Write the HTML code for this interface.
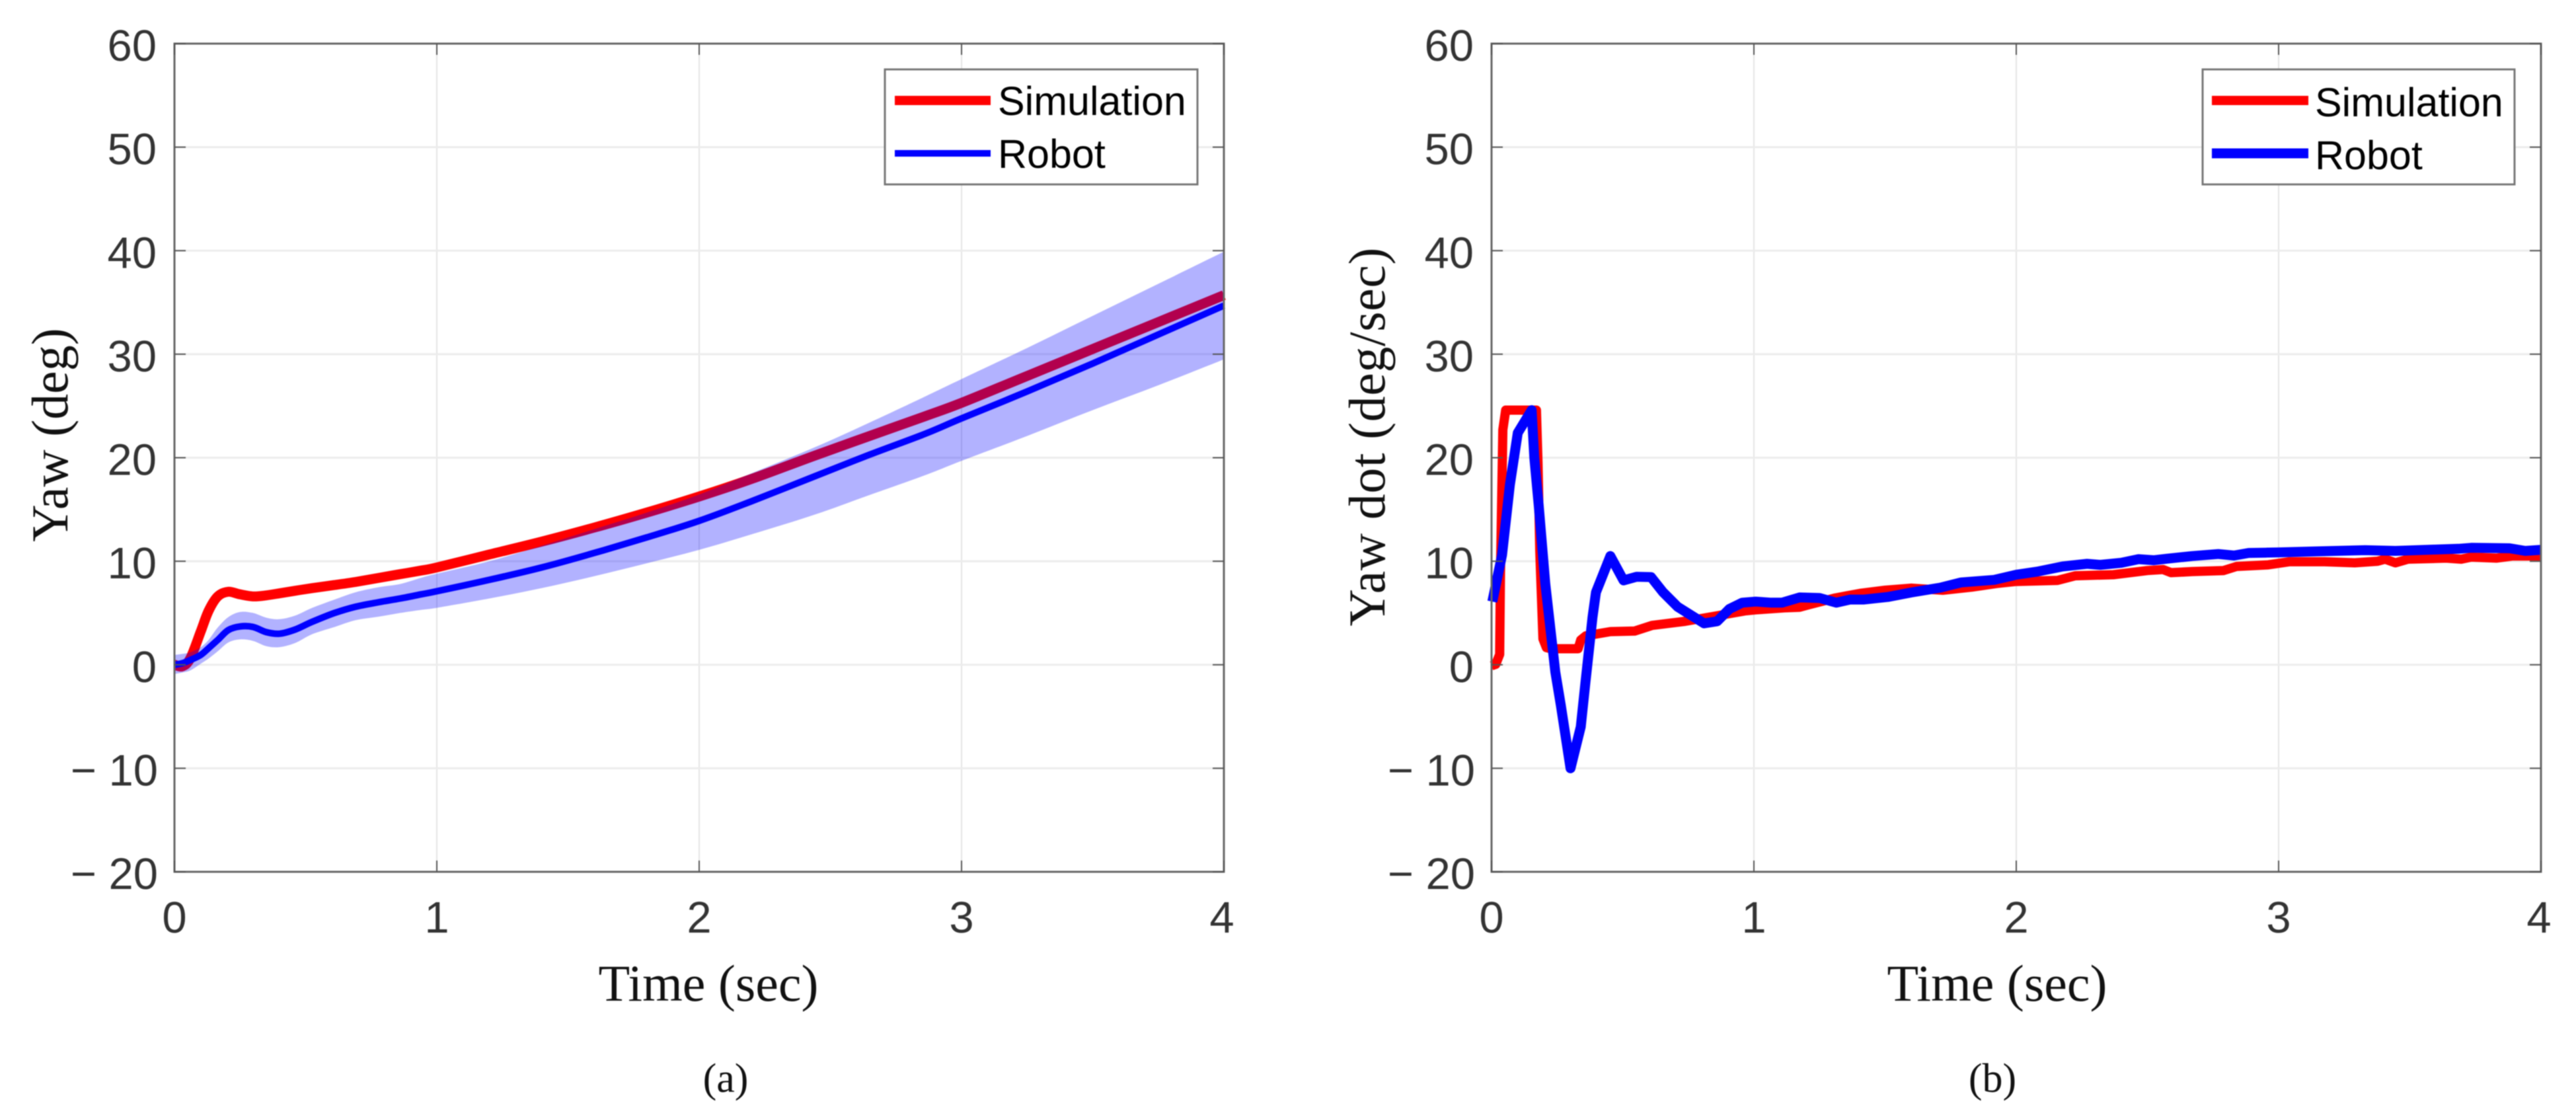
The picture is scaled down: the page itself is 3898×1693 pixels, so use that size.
<!DOCTYPE html>
<html lang="en">
<head>
<meta charset="utf-8">
<title>Yaw and yaw rate: simulation vs robot</title>
<style>
html,body{margin:0;padding:0;background:#fff;}
svg{display:block;filter:blur(0.7px);}
.tick{font-family:"Liberation Sans",sans-serif;font-size:67px;fill:#333;}
.serif{font-family:"Liberation Serif",serif;fill:#111;}
.legend-text{font-family:"Liberation Sans",sans-serif;font-size:61px;fill:#000;}
</style>
</head>
<body>
<svg id="figure" xmlns="http://www.w3.org/2000/svg" width="3898" height="1693" viewBox="0 0 3898 1693">
  <rect width="3898" height="1693" fill="#fff"/>

  <g id="panel-a"></g>
  <g id="panel-b"></g>

  <text class="serif" font-size="78" text-anchor="middle" transform="translate(102 658) rotate(-90)">Yaw (deg)</text>
  <text class="serif" font-size="78" text-anchor="middle" textLength="573" lengthAdjust="spacing" transform="translate(2095 661) rotate(-90)">Yaw dot (deg/sec)</text>
  <text class="serif" font-size="78" text-anchor="middle" x="1072" y="1514">Time (sec)</text>
  <text class="serif" font-size="78" text-anchor="middle" x="3022" y="1514">Time (sec)</text>
  <text class="serif" font-size="62" text-anchor="middle" x="1098" y="1652">(a)</text>
  <text class="serif" font-size="62" text-anchor="middle" x="3015" y="1652">(b)</text>

  <g>
    <rect x="1339" y="105" width="473" height="174" fill="#fff" stroke="#777" stroke-width="3"/>
    <line x1="1354" x2="1499" y1="152" y2="152" stroke="#f00" stroke-width="14"/>
    <text class="legend-text" x="1510" y="174">Simulation</text>
    <line x1="1354" x2="1499" y1="232" y2="232" stroke="#00f" stroke-width="10"/>
    <text class="legend-text" x="1510" y="254">Robot</text>
  </g>
  <g>
    <rect x="3333" y="105" width="472" height="174" fill="#fff" stroke="#777" stroke-width="3"/>
    <line x1="3347" x2="3493" y1="152" y2="152" stroke="#f00" stroke-width="14"/>
    <text class="legend-text" x="3503" y="176">Simulation</text>
    <line x1="3347" x2="3493" y1="232" y2="232" stroke="#00f" stroke-width="15"/>
    <text class="legend-text" x="3503" y="256">Robot</text>
  </g>
</svg>

<script>
/* ---------- axis tick data ---------- */
const xTicks = [0, 1, 2, 3, 4];
const yTicks = [60, 50, 40, 30, 20, 10, 0, -10, -20];

/* ---------- panel (a): yaw ---------- */
const yawTime = [0,.03,.06,.10,.13,.165,.205,.25,.30,.35,.40,.46,.525,.61,.69,.78,.86,.94,1,1.2,1.4,1.6,1.8,2,2.2,2.44,2.65,2.86,3,3.25,3.5,3.75,4];
const yawSimulation = [0,-.15,.6,3.2,5.2,6.6,7.05,6.8,6.6,6.7,6.9,7.15,7.4,7.7,8.0,8.4,8.75,9.1,9.4,10.65,11.9,13.25,14.7,16.25,17.95,20.2,22.1,24,25.3,27.9,30.5,33.1,35.7];
const yawRobot = [0,.15,.45,.95,1.6,2.4,3.35,3.7,3.65,3.15,3.0,3.4,4.15,5.0,5.6,6.05,6.4,6.8,7.1,8.2,9.4,10.8,12.3,13.9,15.8,18.2,20.3,22.3,23.8,26.4,29.1,31.9,34.7];
const yawUpper = [.95,1.05,1.2,1.7,2.4,3.6,4.6,5.1,5.0,4.55,4.4,4.75,5.5,6.3,7,7.5,7.8,8.4,8.8,10,11.5,13.1,14.7,16.45,18.5,21,23.4,25.9,27.6,30.6,33.7,36.8,39.9];
const yawLower = [-.9,-.75,-.55,.1,.6,1.3,2.15,2.45,2.3,1.8,1.7,2.1,2.95,3.65,4.3,4.65,5,5.3,5.5,6.4,7.4,8.55,9.8,11.1,12.6,14.5,16.4,18.3,19.7,22.1,24.6,27,29.5];

/* ---------- panel (b): yaw dot ---------- */
const dotSimTime = [0,.016,.031,.034,.043,.054,.171,.177,.184,.196,.209,.226,.33,.34,.36,.453,.545,.612,.738,.864,.965,1.007,1.116,1.174,1.21,1.31,1.405,1.5,1.6,1.72,1.83,1.925,2,2.157,2.225,2.37,2.5,2.56,2.59,2.67,2.79,2.84,2.96,3.04,3.175,3.29,3.377,3.406,3.445,3.493,3.638,3.696,3.734,3.83,3.89,4];
const dotSimulation = [-.1,.05,1,8.9,22.7,24.6,24.6,19.5,11,2.5,1.66,1.55,1.55,2.4,2.8,3.2,3.25,3.8,4.2,4.75,5.2,5.3,5.5,5.55,5.8,6.45,6.9,7.2,7.4,7.2,7.5,7.85,8.05,8.15,8.6,8.7,9.1,9.2,8.9,9,9.1,9.5,9.65,9.95,9.95,9.85,10,10.2,9.85,10.2,10.3,10.2,10.4,10.3,10.5,10.5];
const dotRobotTime = [.003,.04,.07,.1,.153,.163,.18,.205,.243,.264,.301,.34,.358,.385,.398,.453,.503,.553,.608,.654,.709,.81,.86,.907,.956,1.007,1.066,1.107,1.174,1.25,1.314,1.367,1.42,1.51,1.6,1.71,1.79,1.916,2,2.08,2.177,2.27,2.32,2.4,2.466,2.525,2.577,2.67,2.77,2.83,2.886,3,3.155,3.33,3.445,3.686,3.734,3.88,3.94,4];
const dotRobot = [6.1,10.6,17.4,22.4,24.6,20,15.3,7.8,-.7,-3.9,-10,-6,-1.7,4.6,7,10.5,8.15,8.5,8.47,7,5.6,4,4.2,5.4,6,6.1,6,6,6.5,6.45,6,6.3,6.3,6.55,6.98,7.45,7.95,8.2,8.7,9,9.5,9.75,9.65,9.85,10.2,10.1,10.25,10.5,10.7,10.55,10.8,10.85,10.96,11.07,11,11.2,11.3,11.25,11,11.1];

/* ---------- axis functions ---------- */
const SVG_NS = 'http://www.w3.org/2000/svg';
const TOP = 66, BOTTOM = 1319, YMAX = 60, YMIN = -20, XMAX = 4;
function yScale(v){ return TOP + (YMAX - v) * (BOTTOM - TOP) / (YMAX - YMIN); }
function xScaleFor(left, right){ return function(t){ return left + t * (right - left) / XMAX; }; }
function pathFrom(xs, ys, xf){
  return xs.map(function(t, i){ return (i ? 'L' : 'M') + xf(t).toFixed(1) + ' ' + yScale(ys[i]).toFixed(1); }).join(' ');
}
/* Catmull-Rom smoothing through the data points (used for the smooth yaw curves) */
function smoothSegments(xs, ys, xf){
  const px = xs.map(xf), py = ys.map(yScale);
  let d = '';
  for (let i = 0; i < px.length - 1; i++){
    const a = Math.max(i - 1, 0), b = Math.min(i + 2, px.length - 1);
    const c1x = px[i] + (px[i + 1] - px[a]) / 6, c1y = py[i] + (py[i + 1] - py[a]) / 6;
    const c2x = px[i + 1] - (px[b] - px[i]) / 6, c2y = py[i + 1] - (py[b] - py[i]) / 6;
    d += ' C' + c1x.toFixed(1) + ' ' + c1y.toFixed(1) + ' ' + c2x.toFixed(1) + ' ' + c2y.toFixed(1) + ' ' + px[i + 1].toFixed(1) + ' ' + py[i + 1].toFixed(1);
  }
  return d;
}
function smoothPath(xs, ys, xf){
  return 'M' + xf(xs[0]).toFixed(1) + ' ' + yScale(ys[0]).toFixed(1) + smoothSegments(xs, ys, xf);
}
function make(parent, tag, attrs){
  const node = document.createElementNS(SVG_NS, tag);
  Object.keys(attrs).forEach(function(k){ node.setAttribute(k, attrs[k]); });
  parent.appendChild(node);
  return node;
}

function drawGrid(g, xf, left, right){
  xTicks.forEach(function(t){
    if (t === 0 || t === XMAX) return;
    const el = make(g, 'line', {x1: xf(t), x2: xf(t), y1: TOP, y2: BOTTOM, stroke: '#e4e4e4', 'stroke-width': 2});
    
    
  });
  yTicks.forEach(function(v){
    if (v === YMAX || v === YMIN) return;
    const el = make(g, 'line', {x1: left, x2: right, y1: yScale(v), y2: yScale(v), stroke: '#ececec', 'stroke-width': 3});
    
    
  });
}

function drawFrame(g, xf, left, right){
  const box = make(g, 'rect', {x: left, y: TOP, width: right - left, height: BOTTOM - TOP, fill: 'none', stroke: '#666', 'stroke-width': 3});
  
  
  xTicks.forEach(function(t){
    const lowTick = make(g, 'path', {d: 'M' + xf(t) + ' ' + BOTTOM + 'v-17M' + xf(t) + ' ' + TOP + 'v17', stroke: '#555', 'stroke-width': 2, fill: 'none'});
    
    
    const label = make(g, 'text', {x: xf(t) - (t === XMAX ? 3 : 0), y: 1411, 'text-anchor': 'middle', 'class': 'tick'});
    label.textContent = String(t);
    
    
  });
  yTicks.forEach(function(v){
    const yy = yScale(v);
    const tick = make(g, 'path', {d: 'M' + left + ' ' + yy + 'h17M' + right + ' ' + yy + 'h-17', stroke: '#555', 'stroke-width': 2, fill: 'none'});
    
    
    const label = make(g, 'text', {x: left - (v < 0 ? 25 : 27), y: yy + 26, 'text-anchor': 'end', 'class': 'tick'});
    label.textContent = v < 0 ? '\u2212 ' + Math.abs(v) : String(v);
    
    
  });
}

function drawLine(g, d, color, width){
  return make(g, 'path', {d: d, fill: 'none', stroke: color, 'stroke-width': width, 'stroke-linejoin': 'round', 'stroke-linecap': 'butt'});
}

/* ---------- panel (a) ---------- */
(function(){
  const g = document.getElementById('panel-a');
  const left = 264, right = 1852;
  const xf = xScaleFor(left, right);
  drawGrid(g, xf, left, right);
  const sim = drawLine(g, smoothPath(yawTime, yawSimulation, xf), '#f00', 15);
  
  
  const lowerRevT = yawTime.slice().reverse();
  const lowerRevV = yawLower.slice().reverse();
  const bandPath = smoothPath(yawTime, yawUpper, xf)
    + ' L' + xf(lowerRevT[0]).toFixed(1) + ' ' + yScale(lowerRevV[0]).toFixed(1)
    + smoothSegments(lowerRevT, lowerRevV, xf) + ' Z';
  const band = make(g, 'path', {d: bandPath, fill: '#00f', 'fill-opacity': 0.3, stroke: 'none'});
  
  
  const robot = drawLine(g, smoothPath(yawTime, yawRobot, xf), '#00f', 10);
  
  
  drawFrame(g, xf, left, right);
})();

/* ---------- panel (b) ---------- */
(function(){
  const g = document.getElementById('panel-b');
  const left = 2257, right = 3845;
  const xf = xScaleFor(left, right);
  drawGrid(g, xf, left, right);
  const sim = drawLine(g, pathFrom(dotSimTime, dotSimulation, xf), '#f00', 14);
  
  
  const robot = drawLine(g, pathFrom(dotRobotTime, dotRobot, xf), '#00f', 15);
  
  
  drawFrame(g, xf, left, right);
})();
</script>
</body>
</html>
